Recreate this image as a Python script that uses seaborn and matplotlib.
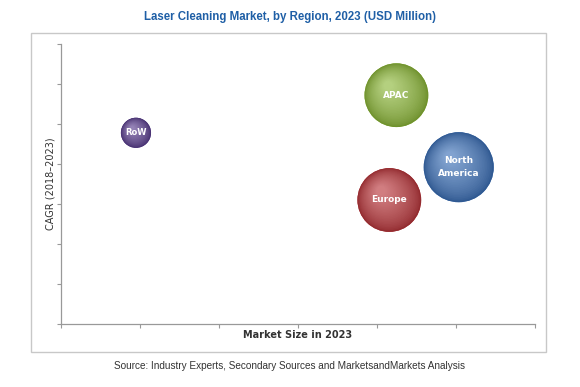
import numpy as np
import pandas as pd
import seaborn as sns
import matplotlib.pyplot as plt
from matplotlib.colors import to_rgb
from matplotlib.patches import Rectangle
from matplotlib.transforms import offset_copy

# dados
regions = ['RoW', 'APAC', 'North America', 'Europe']
labels = ['RoW', 'APAC', 'North\nAmerica', 'Europe']
market_size = [0.95, 4.25, 5.04, 4.16]
cagr = [4.78, 5.72, 3.92, 3.10]
bubble = [12, 46, 55, 46]
colors = ['#5a3e8e', '#8cb63a', '#3d70b6', '#b8373c']

df = pd.DataFrame({'region': regions, 'x': market_size, 'y': cagr, 'size': bubble})

sns.set_style('white')
plt.rcParams['font.family'] = ['DejaVu Sans']

fig = plt.figure(figsize=(5.8, 3.87), dpi=100)
ax = fig.add_axes([61 / 580, 1 - 324 / 387, (534.5 - 61) / 580, (324 - 44) / 387])

# moldura externa
fig.patches.append(Rectangle((31 / 580, 1 - 352 / 387), (546 - 31) / 580, (352 - 33) / 387,
                             transform=fig.transFigure, fill=False, edgecolor='#c8c8c8', lw=1))

sns.scatterplot(data=df, x='x', y='y', hue='region', palette=colors, size='size',
                sizes=(470, 2540), legend=False, edgecolor='none', ax=ax, zorder=3)
base_sizes = ax.collections[0].get_sizes()

# efeito de esfera: camadas mais claras deslocadas para cima/esquerda
for i, row in df.iterrows():
    c = np.array(to_rgb(colors[i]))
    s0 = base_sizes[i]
    r = np.sqrt(s0) / 2
    dark = c * 0.8
    light = c + (1 - c) * 0.35
    n = 24
    for k in range(n + 1):
        t = k / n
        f = 1 - 0.85 * t
        col = dark + (light - dark) * t ** 0.7
        tr = offset_copy(ax.transData, fig=fig, x=-0.3 * r * (1 - f), y=0.35 * r * (1 - f), units='points')
        ax.scatter([row['x']], [row['y']], s=s0 * f ** 2, color=np.clip(col, 0, 1),
                   edgecolor='none', transform=tr, zorder=3 + k * 0.01)
    ax.text(row['x'], row['y'], labels[i], color='white', fontsize=6.5 if i else 6,
            fontweight='bold', ha='center', va='center', zorder=5, linespacing=1.5)

ax.set_xlim(0, 6)
ax.set_ylim(0, 7)
ax.set_xticks(range(7))
ax.set_yticks(range(8))
ax.set_xticklabels([])
ax.set_yticklabels([])
ax.tick_params(axis='both', direction='out', length=3, width=0.8, color='#999999',
               bottom=True, left=True, pad=0)
for s in ['top', 'right']:
    ax.spines[s].set_visible(False)
for s in ['left', 'bottom']:
    ax.spines[s].set_color('#999999')
    ax.spines[s].set_linewidth(0.9)

ax.set_xlabel('Market Size in 2023', fontsize=7, fontweight='bold', color='#333333', labelpad=1)
ax.set_ylabel('CAGR (2018\u20132023)', fontsize=7, color='#333333', labelpad=1)

fig.text(290 / 580, 1 - 17 / 387, 'Laser Cleaning Market, by Region, 2023 (USD Million)',
         ha='center', va='center', fontsize=8.3, fontweight='bold', color='#1f5fa6',
         family=['Liberation Sans', 'DejaVu Sans'])
fig.text(290 / 580, 1 - 366 / 387, 'Source: Industry Experts, Secondary Sources and MarketsandMarkets Analysis',
         ha='center', va='center', fontsize=7.2, color='#333333',
         family=['Liberation Sans', 'DejaVu Sans'])

fig.savefig('out.png', dpi=100)
